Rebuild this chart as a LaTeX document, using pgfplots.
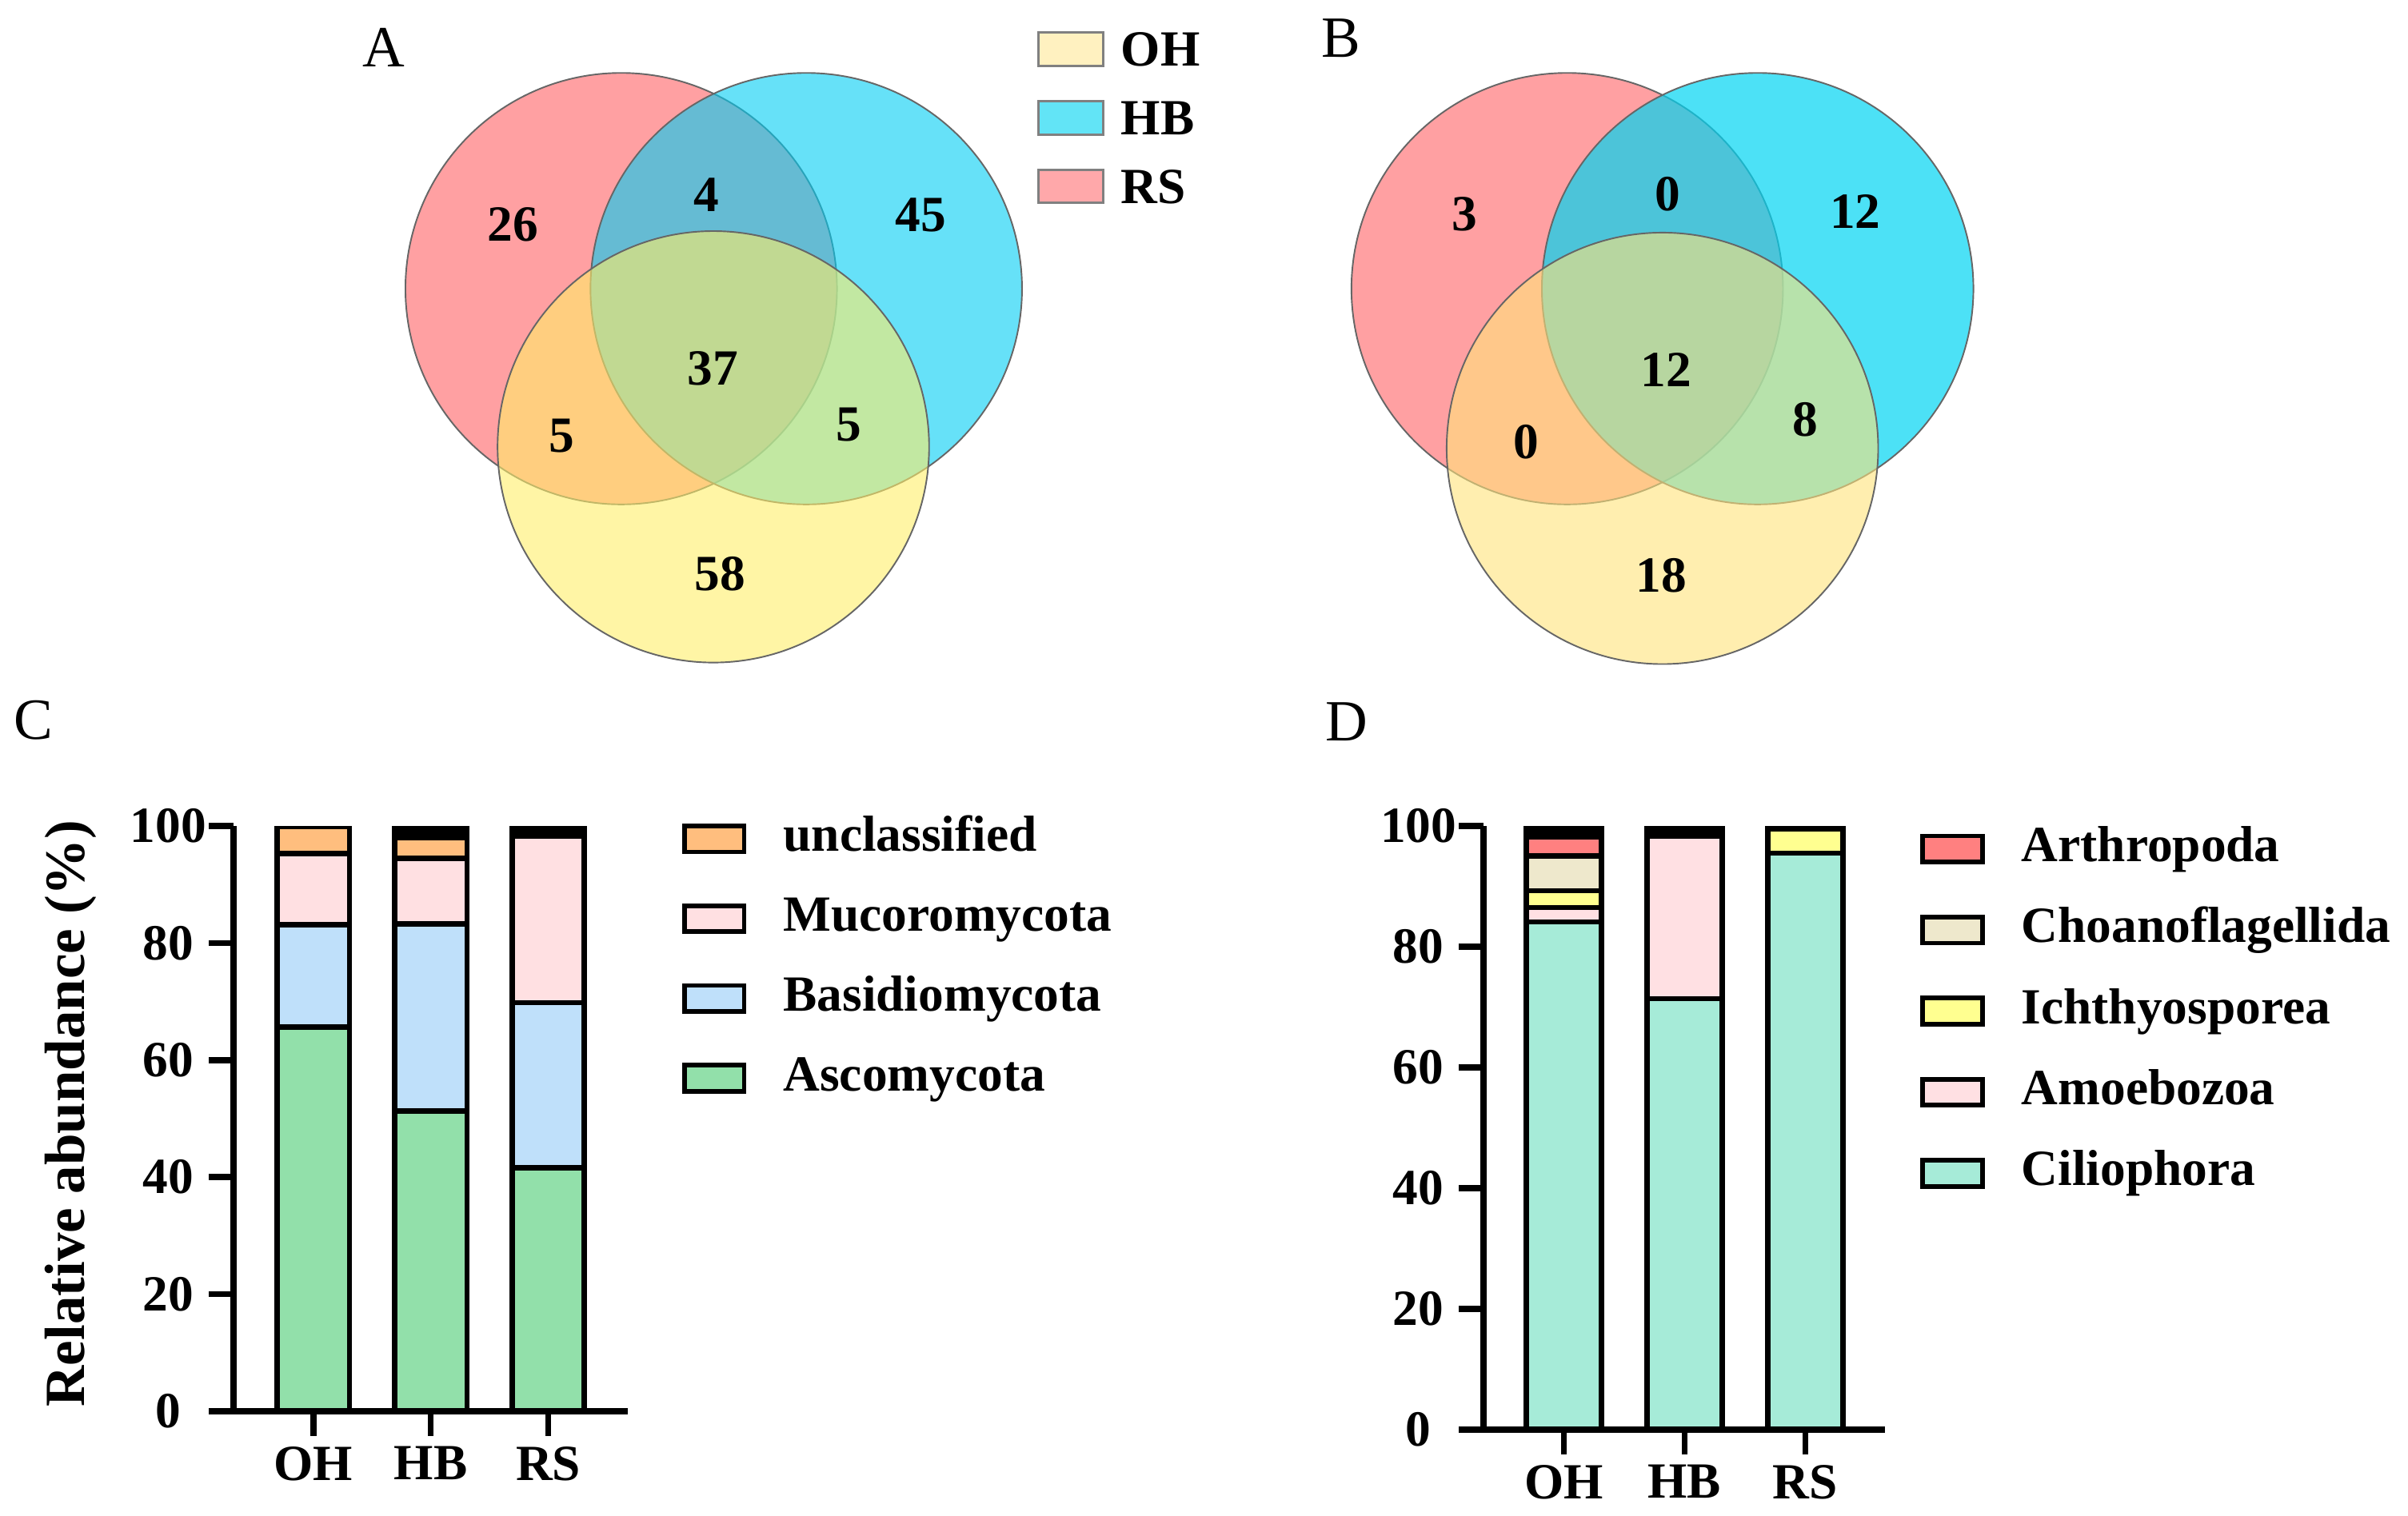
\documentclass[border=0pt]{standalone}
\usepackage{pgfplots}
\pgfplotsset{compat=1.18}
\usepackage{fontspec}
\setmainfont{Liberation Serif}

% Venn colours (filled with opacity)
\definecolor{vRS}{RGB}{255,97,100}
\definecolor{vHB}{RGB}{0,205,243}
\definecolor{vOH}{RGB}{255,238,105}
\definecolor{wHB}{RGB}{0,212,242}
\definecolor{wOH}{RGB}{255,227,122}
% legend swatches of panel A
\definecolor{kOH}{RGB}{255,241,192}
\definecolor{kHB}{RGB}{98,228,246}
\definecolor{kRS}{RGB}{255,168,170}
% fungi
\definecolor{cUnc}{RGB}{255,190,126}
\definecolor{cMuc}{RGB}{255,224,226}
\definecolor{cBas}{RGB}{191,224,250}
\definecolor{cAsc}{RGB}{146,224,170}
% protists
\definecolor{dArt}{RGB}{255,128,128}
\definecolor{dCho}{RGB}{238,232,204}
\definecolor{dIch}{RGB}{255,255,144}
\definecolor{dAmo}{RGB}{255,224,227}
\definecolor{dCil}{RGB}{166,235,216}

\newcommand{\lbl}{\fontsize{16.5}{18}\selectfont\bfseries}
\newcommand{\pnl}{\fontsize{19}{20}\selectfont}

\pgfplotsset{
  venn/.style 2 args={only marks, mark=*, mark size=70.25pt,
    mark options={fill=#1, fill opacity=#2, draw=black!60, line width=0.5pt}},
  vnum/.style={only marks, mark=none, forget plot, nodes near coords,
    point meta=explicit symbolic,
    nodes near coords style={font=\lbl, anchor=center, inner sep=0pt}},
  stackbars/.style={
    scale only axis, ybar stacked, ymin=0, ymax=100,
    axis x line*=bottom, axis y line*=left,
    axis line style={line width=2pt, -},
    xtick={0,1,2}, xticklabels={OH,HB,RS},
    ytick={0,20,...,100},
    tick align=outside, major tick length=8pt,
    tick style={line width=2pt, black},
    tick label style={font=\lbl},
    /pgf/number format/assume math mode=true,
    yticklabel style={anchor=east, text width=26pt, align=center, inner sep=0pt},
    every axis plot/.append style={draw=black, line width=1.75pt},
    legend cell align=left, reverse legend,
    legend image code/.code={\draw[##1, line width=1.5pt] (0pt,-4.25pt) rectangle (19.5pt,4.25pt);},
    legend style={draw=none, fill=none, font=\lbl, anchor=north west,
      inner sep=0pt, row sep=12pt, column sep=12pt,
      nodes={inner sep=0pt, text height=11pt, text depth=3pt}},
  },
}

\begin{document}
\begin{tikzpicture}
\path[use as bounding box] (0pt,0pt) rectangle (784pt,-493.5pt);

% ---------------- Venn diagrams A and B ----------------
\begin{axis}[at={(0pt,0pt)}, anchor=north west, scale only axis,
  width=784pt, height=493.5pt, xmin=0, xmax=1568, ymin=-987, ymax=0,
  hide axis, clip=false,
  legend cell align=left, reverse legend,
  legend style={draw=none, fill=none, font=\lbl,
    at={(axis description cs:0.4305,0.9797)}, anchor=north west,
    inner sep=0pt, row sep=10.75pt, column sep=5.5pt,
    nodes={inner sep=0pt, text height=11pt, text depth=0pt}}]
\addplot[venn={vRS}{0.6}, legend image code/.code={\draw[draw=gray, fill=kRS, line width=0.8pt] (0pt,-5.4pt) rectangle (21pt,5.4pt);}]
  coordinates {(404.5,-188)};
\addlegendentry{RS}
\addplot[venn={vHB}{0.6}, legend image code/.code={\draw[draw=gray, fill=kHB, line width=0.8pt] (0pt,-5.4pt) rectangle (21pt,5.4pt);}]
  coordinates {(525,-188)};
\addlegendentry{HB}
\addplot[venn={vOH}{0.6}, legend image code/.code={\draw[draw=gray, fill=kOH, line width=0.8pt] (0pt,-5.4pt) rectangle (21pt,5.4pt);}]
  coordinates {(464.5,-291)};
\addlegendentry{OH}

\addplot[venn={vRS}{0.6}, forget plot] coordinates {(1020.5,-188)};
\addplot[venn={wHB}{0.7}, forget plot] coordinates {(1144.5,-188)};
\addplot[venn={wOH}{0.6}, forget plot] coordinates {(1082.5,-292)};

\addplot[vnum] table[meta=t] {
x y t
334 -146 26
460 -127 4
599.5 -140 45
464 -240 37
365.6 -284 5
552.6 -276.6 5
468.7 -373.7 58
};
\addplot[vnum] table[meta=t] {
x y t
953.6 -139.7 3
1086 -126.5 0
1208 -138 12
1085 -241 12
993.6 -288 0
1175.4 -273.5 8
1081.6 -375 18
};

\node[font=\pnl] at (axis cs:250,-31) {A};
\node[font=\pnl] at (axis cs:873,-25) {B};
\node[font=\pnl] at (axis cs:22,-469) {C};
\node[font=\pnl] at (axis cs:877,-470) {D};
\end{axis}

% ---------------- C: fungi ----------------
\begin{axis}[stackbars, at={(76pt,-459.5pt)}, anchor=south west,
  width=128.5pt, height=190.5pt, bar width=23.6pt,
  xmin=-0.68, xmax=2.68,
  ylabel={Relative abundance (\%)},
  ylabel style={font=\fontsize{18.5}{19}\selectfont\bfseries,
    at={(axis description cs:-0.412,0.509)}, anchor=center},
  legend style={at={(axis description cs:1.135,1.016)}}]
\addplot[fill=cAsc] coordinates {(0,65.6) (1,51.3) (2,41.6)};
\addlegendentry{Ascomycota}
\addplot[fill=cBas] coordinates {(0,17.5) (1,32.0) (2,28.2)};
\addlegendentry{Basidiomycota}
\addplot[fill=cMuc] coordinates {(0,12.2) (1,11.2) (2,28.5)};
\addlegendentry{Mucoromycota}
\addplot[fill=cUnc] coordinates {(0,4.7) (1,3.5) (2,0.7)};
\addlegendentry{unclassified}
\addplot[fill=black, forget plot] coordinates {(0,0) (1,2.0) (2,1.0)};
\end{axis}

% ---------------- D: protists ----------------
\begin{axis}[stackbars, at={(483pt,-465.5pt)}, anchor=south west,
  width=130.75pt, height=196.5pt, bar width=24.45pt,
  xmin=-0.665, xmax=2.66,
  legend style={at={(axis description cs:1.086,0.9986)}, row sep=12.4pt}]
\addplot[fill=dCil] coordinates {(0,84.1) (1,71.4) (2,95.5)};
\addlegendentry{Ciliophora}
\addplot[fill=dAmo] coordinates {(0,2.4) (1,27.0) (2,0)};
\addlegendentry{Amoebozoa}
\addplot[fill=dIch] coordinates {(0,2.8) (1,0) (2,4.1)};
\addlegendentry{Ichthyosporea}
\addplot[fill=dCho] coordinates {(0,5.75) (1,0) (2,0)};
\addlegendentry{Choanoflagellida}
\addplot[fill=dArt] coordinates {(0,3.15) (1,0) (2,0)};
\addlegendentry{Arthropoda}
\addplot[fill=black, forget plot] coordinates {(0,1.8) (1,1.6) (2,0.4)};
\end{axis}
\end{tikzpicture}
\end{document}
